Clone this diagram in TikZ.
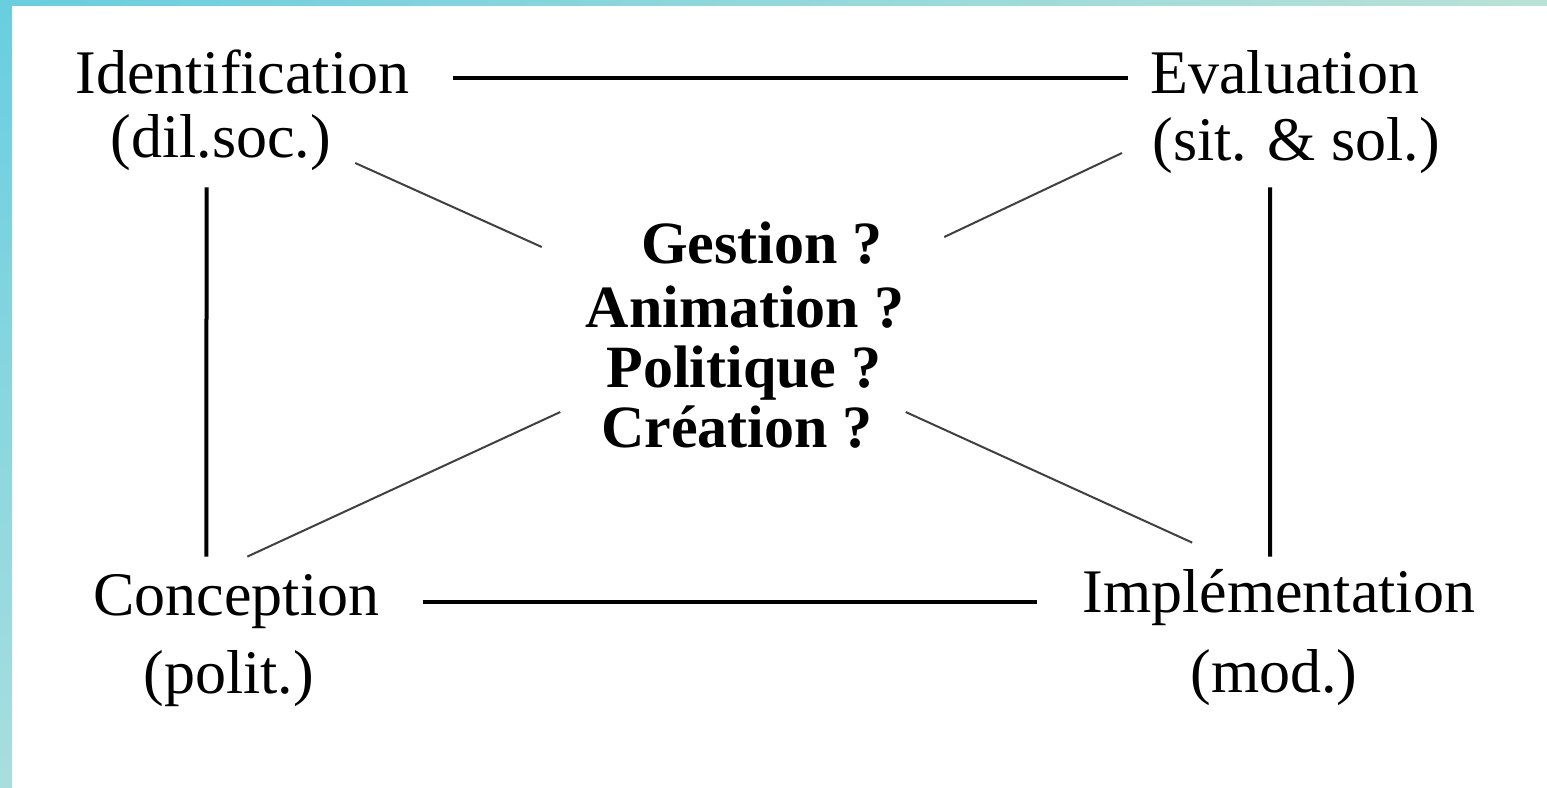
\documentclass[tikz,border=0pt]{standalone}
\usepackage{fontspec}
\setmainfont{Liberation Serif}
\usepackage{tikz}
\usetikzlibrary{calc, positioning}

\definecolor{stripetop}{RGB}{104,206,224}
\definecolor{stripebot}{RGB}{168,222,222}
\definecolor{striperight}{RGB}{185,226,214}

\begin{document}
\begin{tikzpicture}[
    x=0.5pt, y=-0.5pt,
    lbl/.style={font=\fontsize{31}{36}\selectfont, inner sep=0pt,
                anchor=base west, text height=21.7pt, text depth=6.2pt},
    ques/.style={font=\fontsize{30}{36}\selectfont\bfseries, inner sep=0pt,
                 anchor=base, text height=21pt, text depth=6pt},
    heavy/.style={line width=2pt, black},
    light/.style={line width=1pt, black!75}
]
    \useasboundingbox (0,0) rectangle (1547,787);
    % frame stripes
    \shade[top color=stripetop, bottom color=stripebot] (0,0) rectangle (12,787);
    \shade[left color=stripetop, right color=striperight] (0,0) rectangle (1547,5);

    % corner labels
    \node[lbl] (ident)  at (75,93)   {Identification};
    \node[lbl] (dilsoc) at (110,157) {(dil.soc.)};
    \node[lbl] (eval)   at (1150,93) {Evaluation};
    \node[lbl] (sitsol) at (1152,160) {(sit. \& sol.)};
    \node[lbl] (concep) at (93,615)  {Conception};
    \node[lbl] (polit)  at (143,693) {(polit.)};
    \node[lbl] (implem) at (1082,612) {Implémentation};
    \node[lbl] (mod)    at (1190,692) {(mod.)};

    % centre questions
    \node[ques] (gest) at (762,263) {Gestion ?};
    \node[ques] (anim) at (745,327) {Animation ?};
    \node[ques] (polq) at (744,387) {Politique ?};
    \node[ques] (crea) at (737,447) {Création ?};

    % frame of the cycle
    \draw[heavy] ($(ident.east)+(43,0)$) -- ($(eval.west)+(-22,0)$);
    \draw[heavy] ($(concep.east)+(43,2.5)$) -- ($(implem.west)+(-45,5.5)$);
    \draw[heavy] ($(dilsoc.south)+(-14,17.6)$) -- ($(concep.north)+(-30,-14.6)$);
    \draw[heavy] ($(sitsol.south)+(-26,14.6)$) -- ($(implem.north)+(-8.5,-11.6)$);

    % towards the centre
    \draw[light] ($(dilsoc.east)+(24,21.5)$) -- ($(gest.west)+(-99,-1)$);
    \draw[light] ($(sitsol.west)+(-30,8.5)$) -- ($(gest.east)+(61,-11)$);
    \draw[light] ($(concep.north)+(11,-14.6)$) -- ($(crea.west)+(-40.5,-20)$);
    \draw[light] ($(crea.east)+(32.5,-20)$) -- ($(implem.north)+(-86.5,-25.6)$);
\end{tikzpicture}
\end{document}
